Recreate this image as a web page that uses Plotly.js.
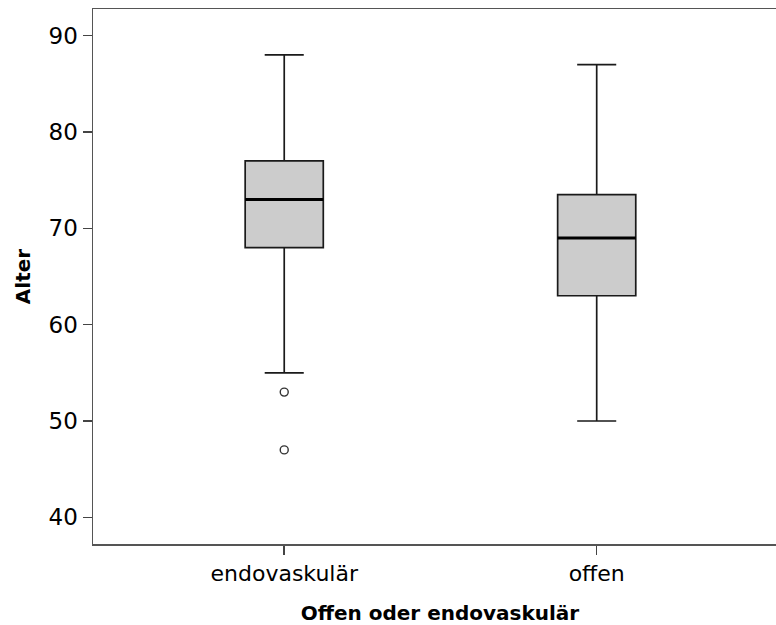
<!DOCTYPE html>
<html>
<head>
<meta charset="utf-8">
<script src="https://cdn.plot.ly/plotly-3.0.1.min.js"></script>
<style>html,body{margin:0;padding:0;background:#fff;overflow:hidden;width:776px;height:625px;} #chart{position:relative;width:776px;height:625px;overflow:hidden;}</style>
</head>
<body>
<div id="chart"></div>
<script>
// Data
const categories = ["endovaskulär", "offen"];
const q1Values = [68, 63];
const medianValues = [73, 69];
const q3Values = [77, 73.5];
const lowerWhisker = [55, 50];
const upperWhisker = [88, 87];
const outlierCategory = ["endovaskulär", "endovaskulär"];
const outlierValues = [53, 47];
const yTickValues = [40, 50, 60, 70, 80, 90];

const boxWidth = 0.25;

const boxTrace = {
  type: "box",
  x: categories,
  q1: q1Values,
  median: medianValues,
  q3: q3Values,
  lowerfence: lowerWhisker,
  upperfence: upperWhisker,
  width: boxWidth,
  whiskerwidth: 0.5,
  boxpoints: false,
  fillcolor: "#cccccc",
  line: { color: "#1a1a1a", width: 1.7 },
  hoverinfo: "skip",
  showlegend: false
};

const outlierTrace = {
  type: "scatter",
  mode: "markers",
  x: outlierCategory,
  y: outlierValues,
  marker: { symbol: "circle-open", size: 8, color: "#333333", line: { width: 1.4, color: "#333333" } },
  hoverinfo: "skip",
  showlegend: false
};

// thicker median lines, derived from the median array
const medianShapes = medianValues.map((m, i) => ({
  type: "line",
  xref: "x", yref: "y",
  x0: i - boxWidth / 2, x1: i + boxWidth / 2,
  y0: m, y1: m,
  line: { color: "#000000", width: 3 }
}));

const layout = {
  width: 787,
  height: 625,
  margin: { l: 93, r: 0, t: 9, b: 81 },
  paper_bgcolor: "#ffffff",
  plot_bgcolor: "#ffffff",
  showlegend: false,
  shapes: medianShapes,
  xaxis: {
    type: "category",
    categoryorder: "array",
    categoryarray: categories,
    range: [-0.612, 1.609],
    showgrid: false,
    zeroline: false,
    showline: true,
    mirror: true,
    linecolor: "#555555",
    linewidth: 1.5,
    ticks: "outside",
    ticklen: 9,
    tickwidth: 1.5,
    tickcolor: "#444444",
    tickfont: { family: "DejaVu Sans", size: 22, color: "#000000" },
    title: { text: "Offen oder endovaskulär", font: { family: "DejaVu Sans", size: 20, color: "#000000", weight: "bold" }, standoff: 22 },
    fixedrange: true
  },
  yaxis: {
    range: [37.23, 92.77],
    tickvals: yTickValues,
    ticktext: yTickValues.map(String),
    showgrid: false,
    zeroline: false,
    showline: true,
    mirror: false,
    linecolor: "#555555",
    linewidth: 1.5,
    ticks: "outside",
    ticklen: 9,
    tickwidth: 1.5,
    tickcolor: "#444444",
    tickfont: { family: "DejaVu Sans", size: 23, color: "#000000" },
    title: { text: "Alter", font: { family: "DejaVu Sans", size: 20, color: "#000000", weight: "bold" }, standoff: 12 },
    fixedrange: true
  }
};

Plotly.newPlot("chart", [boxTrace, outlierTrace], layout, { displayModeBar: false, staticPlot: true });
</script>
</body>
</html>
